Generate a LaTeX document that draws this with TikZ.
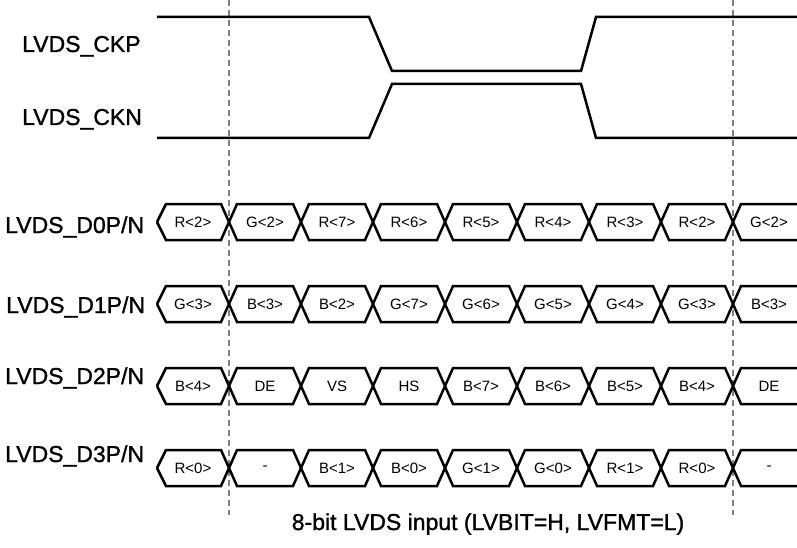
\documentclass[tikz,border=0pt]{standalone}
\usepackage{fontspec}
\setmainfont{Liberation Sans}
\newfontfamily\heavysans{Liberation Sans}[FakeBold=1.2]
\begin{document}
\begin{tikzpicture}[x=1pt,y=-1pt,
  wave/.style={line width=2.5pt, line join=miter},
  guide/.style={draw=black!50, line width=1.4pt, dash pattern=on 6pt off 4pt},
  siglabel/.style={font=\heavysans\fontsize{23}{27}\selectfont, anchor=base west, inner sep=0pt},
  celltext/.style={font=\fontsize{15}{18}\selectfont, inner sep=0pt},
  captext/.style={font=\heavysans\fontsize{23}{27}\selectfont, anchor=base, inner sep=0pt}]
\useasboundingbox (0,0) rectangle (797,548);

% guide lines
\draw[guide] (229,0) -- (229,515);
\draw[guide] (733,0) -- (733,515);

% clock
\draw[wave] (157,17) -- (369,17) -- (392,71) -- (581,71) -- (596,17) -- (797,17);
\draw[wave] (157,138) -- (369,138) -- (392,84) -- (581,84) -- (596,138) -- (797,138);

% data rows
\foreach \yc in {222,304,386,468}{
  \begin{scope}[shift={(0,\yc)}]
  \draw[wave] (157,0) -- (166,-18) -- (221,-18) -- (237,18) -- (293,18) -- (309,-18)
     -- (365,-18) -- (381,18) -- (437,18) -- (453,-18) -- (509,-18) -- (525,18)
     -- (581,18) -- (597,-18) -- (653,-18) -- (669,18) -- (725,18) -- (741,-18) -- (797,-18);
  \draw[wave] (157,0) -- (166,18) -- (221,18) -- (237,-18) -- (293,-18) -- (309,18)
     -- (365,18) -- (381,-18) -- (437,-18) -- (453,18) -- (509,18) -- (525,-18)
     -- (581,-18) -- (597,18) -- (653,18) -- (669,-18) -- (725,-18) -- (741,18) -- (797,18);
  \end{scope}
}

\foreach \t [count=\i from 0] in {R<2>,G<2>,R<7>,R<6>,R<5>,R<4>,R<3>,R<2>,G<2>}
  \node[celltext] (dza\i) at ({193+72*\i},222) {\t};
\foreach \t [count=\i from 0] in {G<3>,B<3>,B<2>,G<7>,G<6>,G<5>,G<4>,G<3>,B<3>}
  \node[celltext] (dob\i) at ({193+72*\i},304) {\t};
\foreach \t [count=\i from 0] in {B<4>,DE,VS,HS,B<7>,B<6>,B<5>,B<4>,DE}
  \node[celltext] (dtc\i) at ({193+72*\i},386) {\t};
\foreach \t [count=\i from 0] in {R<0>,-,B<1>,B<0>,G<1>,G<0>,R<1>,R<0>,-}
  \node[celltext] (dthd\i) at ({193+72*\i},468) {\t};

% signal labels
\node[siglabel] (ckp) at (22,52) {LVDS\_CKP};
\node[siglabel] (ckn) at (22,125) {LVDS\_CKN};
\node[siglabel] (dzero) at (5,233) {LVDS\_D0P/N};
\node[siglabel] (done) at (6,313) {LVDS\_D1P/N};
\node[siglabel] (dtwo) at (5,384) {LVDS\_D2P/N};
\node[siglabel] (dthree) at (5,462) {LVDS\_D3P/N};

% caption
\node[captext] (cap) at (488,530) {8-bit LVDS input (LVBIT=H, LVFMT=L)};
\end{tikzpicture}
\end{document}
